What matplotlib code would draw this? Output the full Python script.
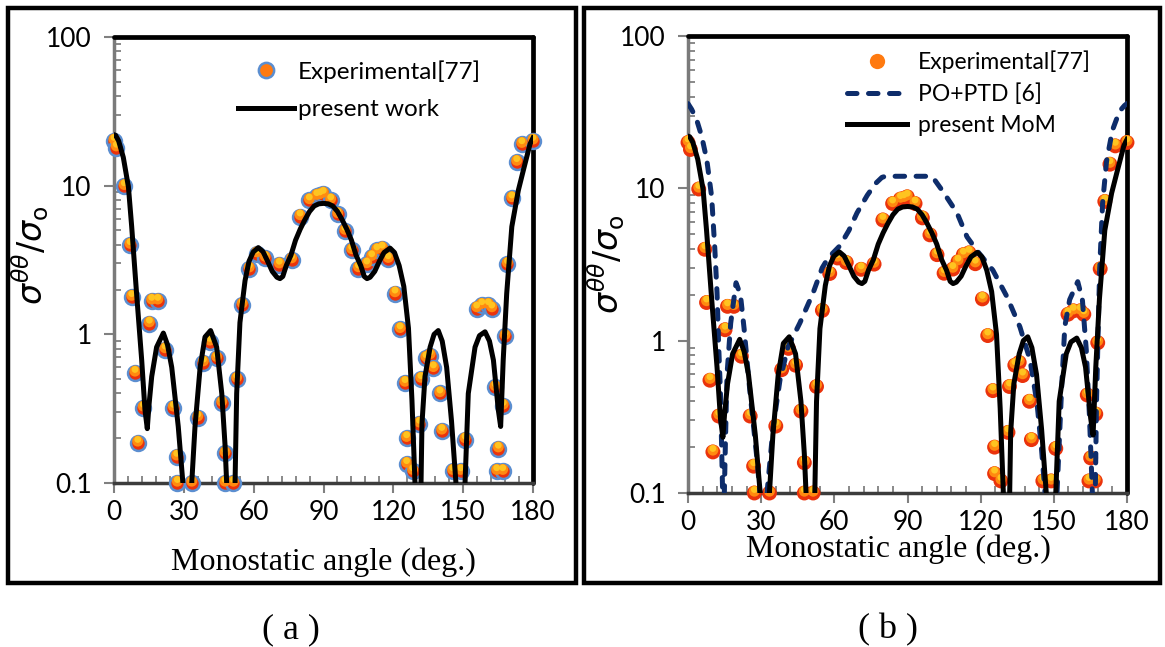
import numpy as np
import matplotlib
matplotlib.use("Agg")
import matplotlib.pyplot as plt
from matplotlib.lines import Line2D
from matplotlib.patches import Rectangle
from matplotlib.transforms import ScaledTranslation

plt.rcParams['font.family'] = ['Lato', 'DejaVu Sans']
plt.rcParams['mathtext.fontset'] = 'dejavusans'

# ===== experimental data [77] =====
exp_angle = [0, 1, 4.4, 6.9, 7.6, 9.0, 10.2, 12.6, 15.2, 16.2, 18.8, 21.9, 25.5, 26.9, 27.2,
             33.4, 36.0, 38.4, 41.2, 44.1, 46.3, 47.7, 47.7, 51.3, 52.7, 55.1, 58.1, 61.3,
             64.9, 71.0, 76.3, 79.9, 83.9, 87.1, 88.5, 89.9, 93.1, 96.1, 99.2, 102.1, 105.0,
             108.6, 110.7, 112.9, 115.2, 117.8, 120.7, 122.9, 125.0, 125.7, 125.7, 128.3,
             131.2, 131.8, 134.0, 135.8, 137.2, 140.0, 140.8, 145.5, 148.9, 150.8, 155.8,
             158.0, 160.8, 162.3, 163.7, 164.4, 165.1, 167.0, 167.2, 168.0, 169.0, 170.9,
             173.0, 175.2, 180.0]
exp_value = [20, 18, 9.9, 3.98, 1.78, 0.55, 0.186, 0.32, 1.18, 1.68, 1.68, 0.79, 0.32, 0.15, 0.1,
             0.1, 0.275, 0.645, 0.89, 0.69, 0.345, 0.158, 0.1, 0.1, 0.50, 1.58, 2.76, 3.49,
             3.26, 2.94, 3.18, 6.2, 7.95, 8.5, 8.6, 8.8, 7.95, 6.4, 4.95, 3.67, 2.77,
             2.95, 3.3, 3.67, 3.77, 3.2, 1.88, 1.08, 0.47, 0.2, 0.134, 0.12,
             0.25, 0.50, 0.69, 0.72, 0.59, 0.40, 0.224, 0.12, 0.12, 0.196, 1.49,
             1.57, 1.57, 1.49, 0.44, 0.12, 0.17, 0.12, 0.33, 0.97, 2.96, 8.2,
             14.4, 19, 20]

# ===== present work (MoM) =====
mom_angle = [0, 0.7, 2, 4, 6.2, 7.6, 9.7, 11.9, 13.3, 14.3, 15, 16.2, 18.3, 21.2, 23, 24.8,
             27.6, 29.6, 30.5, 32.5, 33.4, 34.8, 37, 39.1, 41.5, 44.1, 46.3, 47.7, 48.4, 49,
             51.3, 52, 52.7, 54.1, 56.3, 58, 59.8, 62, 64, 66, 68, 70, 71.3, 72.5, 74, 76,
             78, 80, 82, 84, 86, 88, 90, 92, 94, 96, 98, 100, 102, 104, 106, 107.5, 108.7,
             110, 112, 114, 116, 118.6, 120.5, 122.5, 124.5, 126.5, 128, 129.3, 130, 131.5,
             131.9, 132.3, 133.6, 135.8, 137.5, 139.3, 141, 142.9, 145, 146.9, 147.5, 150.2,
             150.8, 152.2, 155.1, 157, 159.4, 161.3, 163, 165.1, 166.1, 167.2, 168.7, 170.9,
             173.7, 175.8, 178.7, 180]
mom_value = [22, 21.8, 20, 15.5, 9.8, 5.3, 1.88, 0.67, 0.31, 0.232, 0.33, 0.52, 0.82, 1.02, 0.85, 0.60,
             0.24, 0.1, 0.03, 0.03, 0.1, 0.24, 0.6, 0.96, 1.06, 0.82, 0.4, 0.18, 0.1, 0.03,
             0.03, 0.1, 0.4, 1.2, 2.3, 3.1, 3.58, 3.83, 3.6, 3.1, 2.65, 2.42, 2.37, 2.45, 2.9, 3.4,
             4.3, 5.1, 5.9, 6.7, 7.3, 7.55, 7.6, 7.55, 7.3, 6.7, 5.9, 5.1, 4.3, 3.4, 2.9, 2.45, 2.37,
             2.42, 2.65, 3.1, 3.55, 3.8, 3.55, 2.9, 2.1, 1.1, 0.36, 0.1, 0.03, 0.03,
             0.1, 0.25, 0.52, 0.82, 1.0, 1.06, 0.9, 0.6, 0.26, 0.1, 0.03, 0.03,
             0.1, 0.4, 0.82, 0.98, 1.04, 0.9, 0.67, 0.31, 0.24, 0.67, 1.88, 5.3,
             9.3, 12.6, 19, 21]

# ===== PO+PTD [6] =====
po_angle = [0, 1.5, 3.6, 5.6, 7.7, 9.7, 11, 11.9, 12.6, 13.3, 13.9, 14.2, 14.5, 14.9, 15.3, 16,
            17.5, 19.7, 21.5, 23, 25.4, 28.3, 29.5, 31, 32.4, 34.9, 37.7, 41, 45.9, 51.3, 55,
            57.5, 62.3, 66, 69.3, 73.5, 77, 79.5, 81, 98.5, 100.4, 104.6, 110.3, 114.4, 118.5,
            125, 130.8, 136.1, 140.2, 143.1, 145, 146.4, 149, 151.3, 153.3, 154.5, 156.5,
            159.8, 161.7, 163.3, 164.6, 165.8, 166.3, 167, 167.5, 168.2, 168.8, 170, 171.6,
            174, 176.9, 179, 180]
po_value = [36, 33, 28, 22, 15.4, 8.8, 4.0, 2.07, 0.91, 0.46, 0.166, 0.1, 0.05, 0.1, 0.2, 0.6,
            1.3, 2.4, 2.0, 1.2, 0.46, 0.166, 0.1, 0.04, 0.1, 0.27, 0.55, 0.91, 1.31, 2.06, 3.0,
            3.5, 4.2, 5.3, 6.9, 9.0, 10.8, 11.8, 12, 12, 11.8, 9.5, 6.9, 4.8, 3.9,
            2.9, 1.94, 1.23, 0.75, 0.39, 0.19, 0.1, 0.04, 0.1, 0.53, 1.24, 1.86,
            2.44, 1.86, 0.87, 0.32, 0.1, 0.05, 0.1, 0.4, 1.2, 3.0, 8.0, 15,
            24, 32, 35, 36]

x_ticks = [0, 30, 60, 90, 120, 150, 180]
y_ticks = [0.1, 1, 10, 100]
y_ticklabels = ['0.1', '1', '10', '100']

W, H = 1165, 647
fig = plt.figure(figsize=(W / 100, H / 100), dpi=100)


def px_axes(x0, x1, y0, y1):
    return fig.add_axes([x0 / W, 1 - y1 / H, (x1 - x0) / W, (y1 - y0) / H])


def draw_exp(ax, edge):
    # layered circles fake the orange->red gradient of the excel markers
    base = ax.scatter(exp_angle, exp_value, s=115, c='#EA330C', edgecolors=edge,
                      linewidths=1.8 if edge != 'none' else 0, clip_on=False, zorder=3)
    up1 = ax.transData + ScaledTranslation(0, 1.3 / 72, fig.dpi_scale_trans)
    ax.scatter(exp_angle, exp_value, s=62, c='#FF8A10', edgecolors='none',
               clip_on=False, zorder=3.1, transform=up1)
    up2 = ax.transData + ScaledTranslation(0, 2.5 / 72, fig.dpi_scale_trans)
    ax.scatter(exp_angle, exp_value, s=24, c='#FFC420', edgecolors='none',
               clip_on=False, zorder=3.2, transform=up2)
    return base


def style_axes(ax):
    ax.set_yscale('log')
    ax.set_xlim(0, 180)
    ax.set_ylim(0.1, 100)
    ax.set_xticks(x_ticks)
    ax.set_xticks(np.arange(0, 181, 6), minor=True)
    ax.set_yticks(y_ticks, labels=y_ticklabels)
    ax.tick_params(axis='both', which='major', direction='out', length=7, width=1.5,
                   color='#808080', labelsize=19, labelcolor='black')
    ax.tick_params(axis='x', which='major', pad=5)
    ax.tick_params(axis='y', which='major', pad=9)
    ax.tick_params(axis='both', which='minor', direction='in', length=5, width=1.3,
                   color='#808080')
    ax.yaxis.set_minor_formatter(plt.NullFormatter())
    ax.spines['left'].set_color('#7a7a7a')
    ax.spines['left'].set_linewidth(2.5)
    ax.spines['bottom'].set_color('#3c3c3c')
    ax.spines['bottom'].set_linewidth(2.5)
    for s in ('top', 'right'):
        ax.spines[s].set_color('black')
        ax.spines[s].set_linewidth(3.4)
        ax.spines[s].set_capstyle('round')
    ax.set_facecolor('white')
    ax.set_xlabel('Monostatic angle (deg.)', family='Liberation Serif', fontsize=23)
    ax.set_ylabel(r'$\sigma^{\theta\theta}/\sigma_{\mathrm{o}}$', fontsize=24)


# ===== (a) =====
ax1 = px_axes(114, 533, 37, 483)
style_axes(ax1)
draw_exp(ax1, '#5B8ED0')
ax1.plot(mom_angle, mom_value, color='black', lw=3.6, solid_joinstyle='round', zorder=4)
ax1.xaxis.set_label_coords(0.5, -0.145)
ax1.yaxis.set_label_coords(-0.15, 0.51)
h_exp1 = Line2D([], [], ls='none', marker='o', ms=11, mfc='#FF7A10', mec='#5B8ED0', mew=1.8)
h_mom1 = Line2D([], [], color='black', lw=3.6)
ax1.legend([h_exp1, h_mom1], ['Experimental[77]', 'present work'], loc='upper left',
           bbox_to_anchor=(0.296, 0.948), frameon=False, fontsize=17.5, borderpad=0,
           borderaxespad=0, handlelength=2.3, handletextpad=0.15, labelspacing=0.68)

# ===== (b) =====
ax2 = px_axes(688, 1127, 36, 493)
style_axes(ax2)
draw_exp(ax2, 'none')
ax2.plot(po_angle, po_value, color='#0E2D6B', lw=3.6, ls=(0, (1.9, 2.3)),
         dash_capstyle='round', zorder=3.5)
ax2.plot(mom_angle, mom_value, color='black', lw=3.6, solid_joinstyle='round', zorder=4)
ax2.xaxis.set_label_coords(0.48, -0.09)
ax2.yaxis.set_label_coords(-0.14, 0.5)
h_exp2 = Line2D([], [], ls='none', marker='o', ms=11, mfc='#FF7A10', mec='none')
h_po = Line2D([], [], color='#0E2D6B', lw=3.6, ls=(0, (1.9, 2.3)), dash_capstyle='round')
h_mom2 = Line2D([], [], color='black', lw=3.6)
ax2.legend([h_exp2, h_po, h_mom2], ['Experimental[77]', 'PO+PTD [6]', 'present MoM'],
           loc='upper left', bbox_to_anchor=(0.362, 0.968), frameon=False, fontsize=16.5,
           borderpad=0, borderaxespad=0, handlelength=2.6, handletextpad=0.5,
           labelspacing=0.45)

# ===== panel frames and captions =====
fig.add_artist(Rectangle((8 / W, 1 - 583 / H), (576 - 8) / W, (583 - 8) / H,
                         transform=fig.transFigure, fill=False, ec='black', lw=3.2))
fig.add_artist(Rectangle((584 / W, 1 - 583 / H), (1160 - 584) / W, (583 - 8) / H,
                         transform=fig.transFigure, fill=False, ec='black', lw=3.2))
fig.text(291 / W, 1 - 630 / H, '( a )', family='Liberation Serif', fontsize=26,
         ha='center', va='center')
fig.text(888 / W, 1 - 630 / H, '( b )', family='Liberation Serif', fontsize=26,
         ha='center', va='center')

fig.savefig('out.png', dpi=100)
